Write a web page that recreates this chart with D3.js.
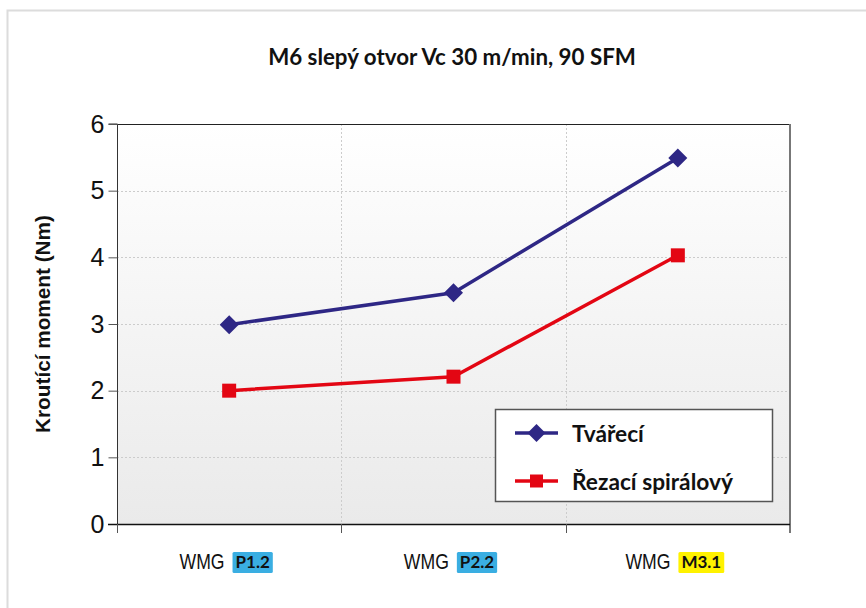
<!DOCTYPE html>
<html>
<head>
<meta charset="utf-8">
<script src="https://cdn.jsdelivr.net/npm/d3@7"></script>
<style>
  html, body { margin: 0; padding: 0; background: #fff; }
  svg { display: block; }
</style>
</head>
<body>
<svg id="chart" width="866" height="608"></svg>
<script>
// Chart data
const categories = ["P1.2", "P2.2", "M3.1"];
const categoryPrefix = "WMG";
const badgeColors = ["#3aaee2", "#3aaee2", "#fff200"];
const seriesNames = ["Tvářecí", "Řezací spirálový"];
const tvareciValues = [2.99, 3.47, 5.49];
const rezaciValues = [2.0, 2.21, 4.03];
const yTicks = [0, 1, 2, 3, 4, 5, 6];
const titleText = "M6 slepý otvor Vc 30 m/min, 90 SFM";
const yAxisTitle = "Kroutící moment (Nm)";

const svg = d3.select("#chart");
const W = 866, H = 608;
const plot = { left: 117, top: 124, right: 790, bottom: 524 };

// Resize a text element's font so it spans the given width
function fitWidth(sel, width, baseSize) {
  const w = sel.node().getComputedTextLength();
  sel.attr("font-size", baseSize * width / w);
  return sel;
}

// Outer frame (left and top edges only are visible)
svg.append("rect")
  .attr("x", 7.5).attr("y", 10.5)
  .attr("width", W + 20).attr("height", H + 20)
  .attr("fill", "#fff").attr("stroke", "#dcdcdc").attr("stroke-width", 2);

const defs = svg.append("defs");
const grad = defs.append("linearGradient").attr("id", "plotBg")
  .attr("x1", 0).attr("y1", 0).attr("x2", 0).attr("y2", 1);
grad.append("stop").attr("offset", "0%").attr("stop-color", "#ffffff");
grad.append("stop").attr("offset", "100%").attr("stop-color", "#eaeaea");

const x = d3.scaleBand().domain(categories).range([plot.left, plot.right]);
const y = d3.scaleLinear().domain([0, 6]).range([plot.bottom, plot.top]);

// Plot background
svg.append("rect")
  .attr("x", plot.left).attr("y", plot.top)
  .attr("width", plot.right - plot.left).attr("height", plot.bottom - plot.top)
  .attr("fill", "url(#plotBg)");

// Horizontal gridlines
svg.append("g").selectAll("line")
  .data(yTicks.filter(t => t > 0 && t < 6))
  .join("line")
  .attr("x1", plot.left).attr("x2", plot.right)
  .attr("y1", d => Math.round(y(d)) + 0.5).attr("y2", d => Math.round(y(d)) + 0.5)
  .attr("stroke", "#cccccc").attr("stroke-dasharray", "2,2");

// Vertical gridlines at category boundaries
svg.append("g").selectAll("line")
  .data(categories.slice(1))
  .join("line")
  .attr("x1", d => Math.round(x(d)) + 0.5).attr("x2", d => Math.round(x(d)) + 0.5)
  .attr("y1", plot.top).attr("y2", plot.bottom)
  .attr("stroke", "#cccccc").attr("stroke-dasharray", "2,2");

// Plot frame: top and right
svg.append("line")
  .attr("x1", plot.left).attr("x2", plot.right)
  .attr("y1", plot.top + 0.5).attr("y2", plot.top + 0.5)
  .attr("stroke", "#222").attr("stroke-width", 1.2);
svg.append("line")
  .attr("x1", plot.right).attr("x2", plot.right)
  .attr("y1", plot.top).attr("y2", plot.bottom + 9)
  .attr("stroke", "#777").attr("stroke-width", 2);

// Y axis
const yAxis = d3.axisLeft(y).tickValues(yTicks).tickSize(9).tickPadding(4).tickFormat(d3.format("d"));
const gy = svg.append("g").attr("transform", `translate(${plot.left + 0.5},0)`).call(yAxis);
gy.select(".domain").attr("stroke", "#333").attr("d", `M-9,${plot.top}H0V${plot.bottom}`);
gy.selectAll(".tick line").attr("stroke", "#555");
gy.selectAll(".tick text")
  .attr("font-family", "Liberation Sans, Arial, sans-serif")
  .attr("font-size", 25).attr("fill", "#111");

// X axis line and tick marks at band boundaries
svg.append("line")
  .attr("x1", plot.left - 9).attr("x2", plot.right)
  .attr("y1", plot.bottom + 0.5).attr("y2", plot.bottom + 0.5)
  .attr("stroke", "#111").attr("stroke-width", 1.5);
const boundaries = categories.map(c => x(c));
svg.append("g").selectAll("line")
  .data(boundaries)
  .join("line")
  .attr("x1", d => Math.round(d) + 0.5).attr("x2", d => Math.round(d) + 0.5)
  .attr("y1", plot.bottom).attr("y2", plot.bottom + 9)
  .attr("stroke", "#555");

// Category labels: condensed "WMG" plus a coloured badge
const labelY = 569;
categories.forEach((c, i) => {
  const cx = x(c) + x.bandwidth() / 2;
  const g = svg.append("g");
  const w1 = 45;
  const t1 = g.append("text")
    .attr("font-family", "Liberation Sans, Arial, sans-serif")
    .attr("font-size", 22.5).attr("fill", "#111")
    .attr("y", labelY)
    .attr("textLength", w1).attr("lengthAdjust", "spacingAndGlyphs")
    .text(categoryPrefix);
  const t2 = g.append("text")
    .attr("font-family", "Lato, Open Sans, sans-serif")
    .attr("font-weight", "bold")
    .attr("font-size", 17).attr("fill", "#111")
    .attr("y", labelY - 1).text(c);
  const w2 = t2.node().getComputedTextLength();
  const gap = 8, pad = 3;
  const total = w1 + gap + w2 + 2 * pad;
  const x0 = cx - total / 2 - 3;
  t1.attr("x", x0);
  g.append("rect")
    .attr("x", x0 + w1 + gap).attr("y", 552)
    .attr("width", w2 + 2 * pad).attr("height", 21)
    .attr("rx", 1.5)
    .attr("fill", badgeColors[i]);
  t2.attr("x", x0 + w1 + gap + pad).raise();
});

// Series lines and markers
const series = [
  { name: seriesNames[0], values: tvareciValues, color: "#2e2785", marker: "diamond" },
  { name: seriesNames[1], values: rezaciValues, color: "#e30613", marker: "square" }
];
const line = d3.line()
  .x((d, i) => x(categories[i]) + x.bandwidth() / 2)
  .y(d => y(d));

const diamond = (s) => `M0,${-s}L${s},0L0,${s}L${-s},0Z`;
const square = (s) => `M${-s},${-s}H${s}V${s}H${-s}Z`;

series.forEach(s => {
  svg.append("path").datum(s.values)
    .attr("d", line).attr("fill", "none")
    .attr("stroke", s.color).attr("stroke-width", 3.5)
    .attr("stroke-linejoin", "round");
  svg.append("g").selectAll("path")
    .data(s.values)
    .join("path")
    .attr("transform", (d, i) => `translate(${x(categories[i]) + x.bandwidth() / 2},${y(d)})`)
    .attr("d", s.marker === "diamond" ? diamond(9.5) : square(7))
    .attr("fill", s.color);
});

// Legend
const lg = svg.append("g");
lg.append("rect")
  .attr("x", 495.5).attr("y", 409.5).attr("width", 277).attr("height", 92)
  .attr("fill", "#fff").attr("stroke", "#555").attr("stroke-width", 1.5);
const legendRows = [433, 481];
const legendTexts = [];
series.forEach((s, i) => {
  const ly = legendRows[i];
  lg.append("line").attr("x1", 515).attr("x2", 558).attr("y1", ly).attr("y2", ly)
    .attr("stroke", s.color).attr("stroke-width", 3.5);
  lg.append("path")
    .attr("transform", `translate(536.5,${ly})`)
    .attr("d", s.marker === "diamond" ? diamond(9) : square(6.5))
    .attr("fill", s.color);
  legendTexts.push(lg.append("text")
    .attr("x", 572).attr("y", ly + 8.5)
    .attr("font-family", "Lato, Open Sans, sans-serif")
    .attr("font-weight", "bold").attr("font-size", 20).attr("fill", "#111")
    .text(s.name));
});
// Size both legend labels from the longer one
{
  const w = legendTexts[1].node().getComputedTextLength();
  const fs = 20 * 161 / w;
  legendTexts.forEach(t => t.attr("font-size", fs));
}

// Title
fitWidth(svg.append("text")
  .attr("x", 452).attr("y", 65)
  .attr("text-anchor", "middle")
  .attr("font-family", "Lato, Open Sans, sans-serif")
  .attr("font-weight", "bold").attr("font-size", 20).attr("fill", "#111")
  .text(titleText), 368, 20);

// Y axis title
fitWidth(svg.append("text")
  .attr("transform", "translate(50,324) rotate(-90)")
  .attr("text-anchor", "middle")
  .attr("font-family", "Liberation Sans, Arial, sans-serif")
  .attr("font-weight", "bold").attr("font-size", 18).attr("fill", "#111")
  .text(yAxisTitle), 218, 18);
</script>
</body>
</html>
